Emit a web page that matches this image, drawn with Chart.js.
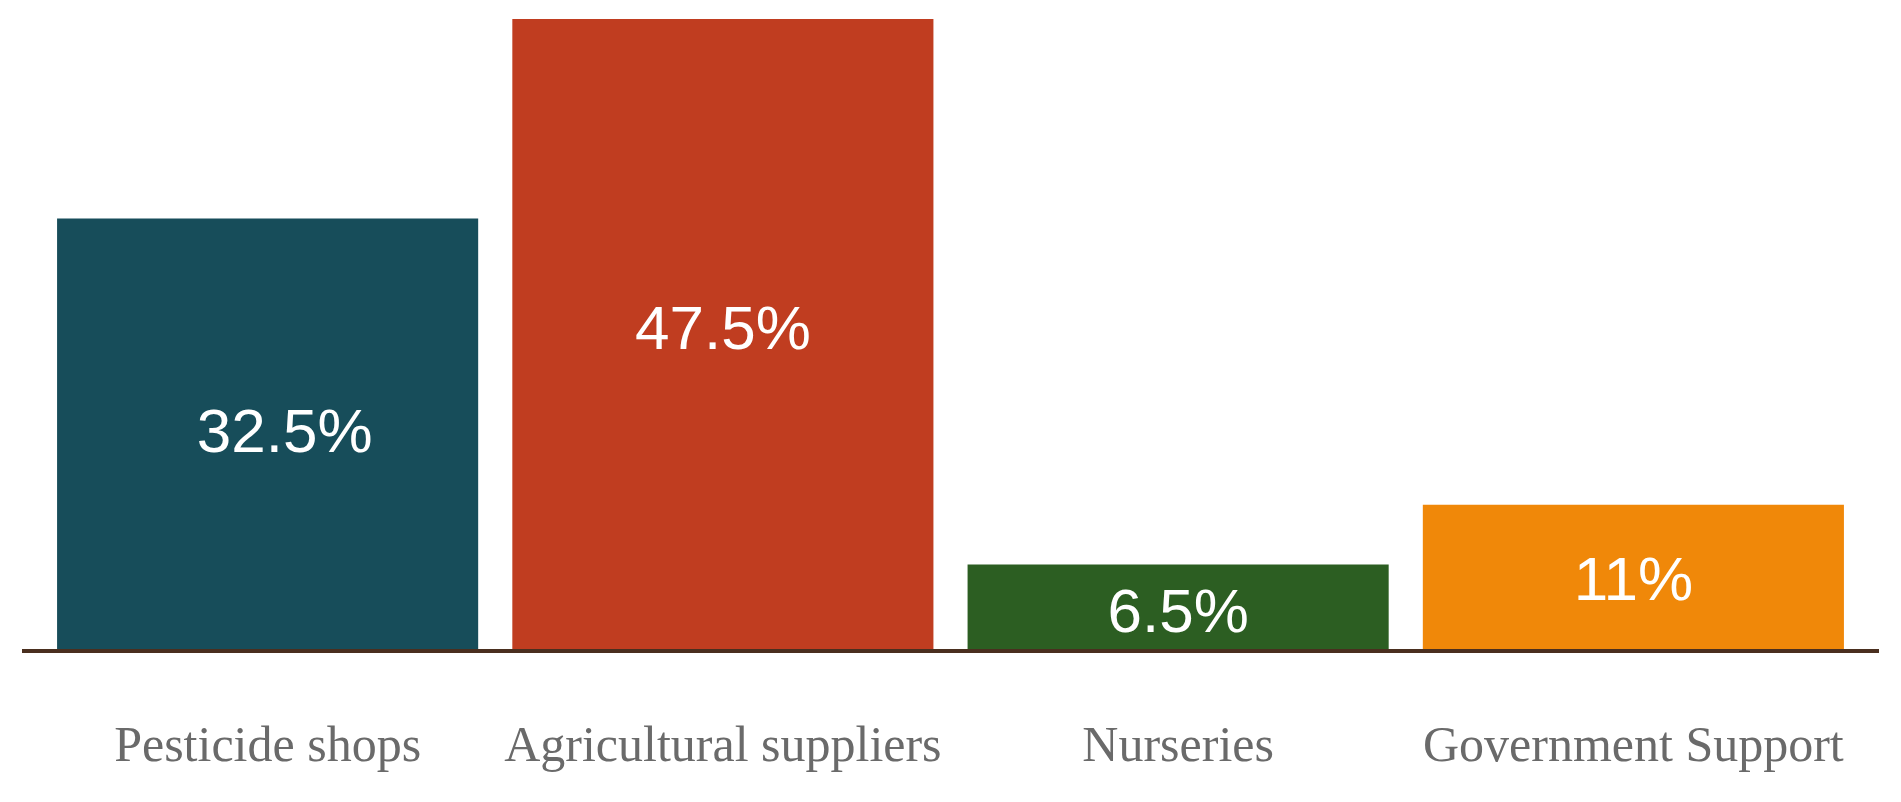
<!DOCTYPE html>
<html>
<head>
<meta charset="utf-8">
<script src="https://cdn.jsdelivr.net/npm/chart.js@4/dist/chart.umd.min.js"></script>
<style>
  html, body { margin: 0; padding: 0; background: #ffffff; }
  #wrap { width: 1901px; height: 802px; }
</style>
</head>
<body>
<div id="wrap"><canvas id="c" width="1901" height="802"></canvas></div>
<script>
const categories = ["Pesticide shops", "Agricultural suppliers", "Nurseries", "Government Support"];
const values = [32.5, 47.5, 6.5, 11];
const valueLabels = ["32.5%", "47.5%", "6.5%", "11%"];
const barColors = ["#174d5a", "#c03d20", "#2c5e22", "#f08809"];

const valueLabelPlugin = {
  id: "valueLabels",
  afterDatasetsDraw(chart, args, opts) {
    const ctx = chart.ctx;
    const meta = chart.getDatasetMeta(0);
    ctx.save();
    ctx.fillStyle = "#ffffff";
    ctx.font = "62px 'Liberation Sans', Arial, sans-serif";
    ctx.textAlign = "center";
    ctx.textBaseline = "middle";
    meta.data.forEach((el, i) => {
      const dx = (opts.shiftX && opts.shiftX[i]) || 0;
      const dy = (opts.shiftY && opts.shiftY[i]) || 0;
      const y = (el.y + el.base) / 2;
      ctx.fillText(valueLabels[i], el.x + dx, y + dy);
    });
    ctx.restore();
  }
};

const baselinePlugin = {
  id: "baseline",
  afterDatasetsDraw(chart) {
    const ctx = chart.ctx;
    const y = chart.scales.y.getPixelForValue(0);
    const a = chart.chartArea;
    ctx.save();
    ctx.strokeStyle = "#4a2f1f";
    ctx.lineWidth = 4;
    ctx.beginPath();
    ctx.moveTo(a.left - 18, y);
    ctx.lineTo(a.right + 18, y);
    ctx.stroke();
    ctx.restore();
  }
};

new Chart(document.getElementById("c"), {
  type: "bar",
  data: {
    labels: categories,
    datasets: [{
      data: values,
      backgroundColor: barColors,
      borderWidth: 0,
      categoryPercentage: 1.0,
      barPercentage: 0.925
    }]
  },
  options: {
    responsive: false,
    animation: false,
    layout: { padding: { left: 40, right: 40, top: 19, bottom: 0 } },
    plugins: {
      legend: { display: false },
      tooltip: { enabled: false },
      valueLabels: { shiftX: [17, 0, 0, 0], shiftY: [0, -3, 7, 5] }
    },
    scales: {
      y: {
        display: false,
        min: 0,
        max: 47.5
      },
      x: {
        grid: { display: false, drawTicks: false },
        border: { display: false },
        ticks: {
          color: "#6a6a6a",
          font: { family: "'Liberation Serif', 'Times New Roman', serif", size: 50 },
          padding: 67,
          autoSkip: false,
          maxRotation: 0
        },
        afterFit(scale) {
          scale.height = 151;
          scale.paddingLeft = 0;
          scale.paddingRight = 0;
        }
      }
    }
  },
  plugins: [valueLabelPlugin, baselinePlugin]
});
</script>
</body>
</html>
